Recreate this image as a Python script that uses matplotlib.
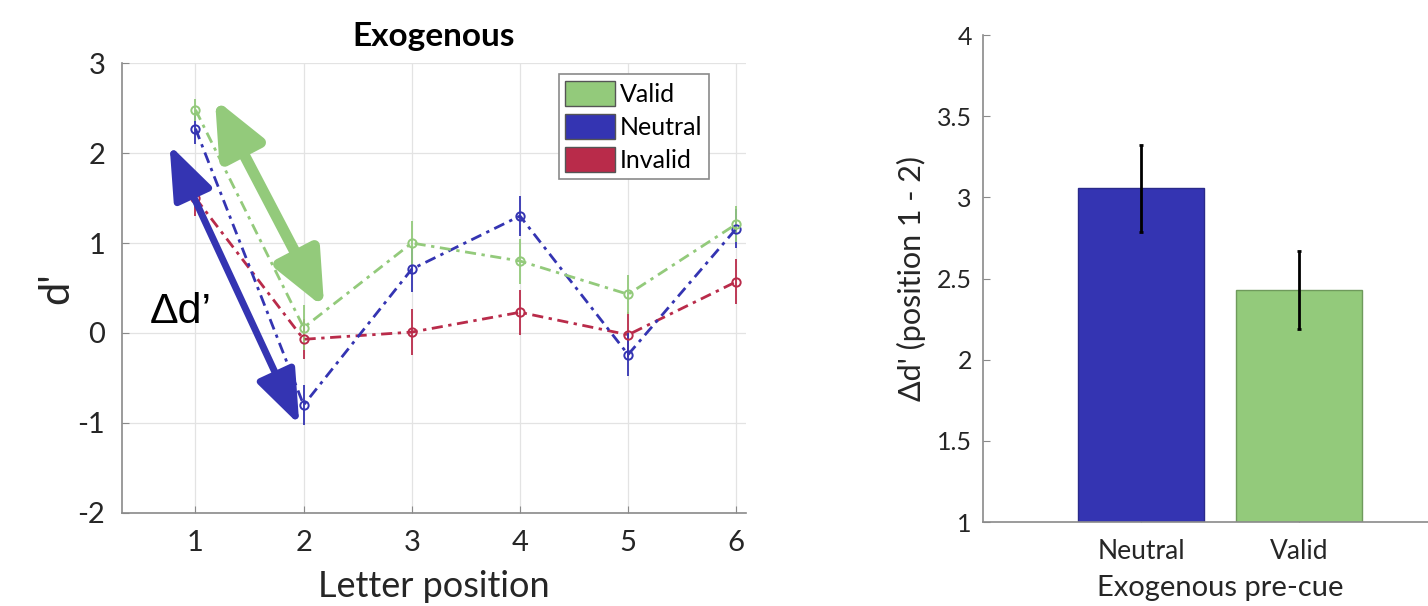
import matplotlib.pyplot as plt
from matplotlib.patches import Patch, FancyArrowPatch
import numpy as np

plt.rcParams['font.family'] = ['Lato', 'DejaVu Sans']

# ------ data ------
positions = [1, 2, 3, 4, 5, 6]
valid = [2.48, 0.06, 1.00, 0.80, 0.43, 1.21]
valid_err = [0.12, 0.25, 0.25, 0.25, 0.22, 0.20]
neutral = [2.27, -0.80, 0.71, 1.30, -0.24, 1.16]
neutral_err = [0.17, 0.22, 0.25, 0.22, 0.24, 0.22]
invalid = [1.50, -0.07, 0.01, 0.23, -0.02, 0.57]
invalid_err = [0.20, 0.22, 0.26, 0.25, 0.25, 0.25]

bar_labels = ['Neutral', 'Valid']
bar_values = [3.055, 2.432]
bar_err = [0.27, 0.24]

c_valid = '#93ca7b'
c_neutral = '#3434b2'
c_invalid = '#b92b4a'
txt = '#262626'
spine = '#8a8a8a'

fig = plt.figure(figsize=(14.28, 6.06), dpi=100)

# ---------- left: d' by letter position ----------
ax = fig.add_axes([0.0854, 0.1535, 0.437, 0.7425])
series = [('Valid', valid, valid_err, c_valid),
          ('Neutral', neutral, neutral_err, c_neutral),
          ('Invalid', invalid, invalid_err, c_invalid)]
for name, vals, err, col in reversed(series):
    ax.errorbar(positions, vals, yerr=err, color=col, lw=2,
                linestyle=(0, (4, 2, 1.2, 2)), marker='o', ms=6,
                mfc='none', mew=1.4, elinewidth=1.3, capsize=0, zorder=3)

ax.set_xlim(0.32, 6.09)
ax.set_ylim(-2, 3)
ax.set_xticks(positions)
ax.set_yticks(range(-2, 4))
ax.set_yticklabels(['-2', '-1', '0', '1', '2', '3'])
ax.grid(True, color='#e3e3e3', lw=0.9)
ax.set_axisbelow(True)
for s in ['top', 'right']:
    ax.spines[s].set_visible(False)
for s in ['left', 'bottom']:
    ax.spines[s].set_color(spine)
    ax.spines[s].set_linewidth(1.2)
ax.tick_params(direction='in', length=5, color=spine, labelsize=21,
               labelcolor=txt, pad=12)
ax.set_xlabel('Letter position', fontsize=26, color=txt, labelpad=10)
ax.set_ylabel("d'", fontsize=30, color=txt, labelpad=2)
ax.set_title('Exogenous', fontsize=24, fontweight='bold', pad=12)

# double arrows showing the drop from position 1 to 2
green_arrow = FancyArrowPatch((1.18, 2.60), (2.19, 0.28),
                              arrowstyle='<|-|>,head_length=3.3,head_width=1.45',
                              mutation_scale=10, lw=8, color=c_valid,
                              shrinkA=0, shrinkB=0, zorder=4)
blue_arrow = FancyArrowPatch((0.76, 2.09), (1.96, -1.02),
                             arrowstyle='<|-|>,head_length=3.3,head_width=1.25',
                             mutation_scale=10, lw=5, color=c_neutral,
                             shrinkA=0, shrinkB=0, zorder=4)
ax.add_patch(green_arrow)
ax.add_patch(blue_arrow)
ax.text(0.58, 0.23, "\u0394d\u2019", fontsize=31, family='Liberation Sans',
        va='center', ha='left', color='black')

handles = [Patch(facecolor=c, edgecolor='#555555', lw=1) for c in [c_valid, c_neutral, c_invalid]]
leg = ax.legend(handles, ['Valid', 'Neutral', 'Invalid'], loc='upper right',
                bbox_to_anchor=(0.94, 0.975), borderaxespad=0, fontsize=18,
                fancybox=False, edgecolor='#8a8a8a', framealpha=1,
                handlelength=2.0, handleheight=1.2, handletextpad=0.2,
                labelspacing=0.3, borderpad=0.25)
leg.get_frame().set_linewidth(1.2)

# ---------- right: bar chart of delta d' ----------
ax2 = fig.add_axes([0.6884, 0.1386, 0.332, 0.8036])
xb = np.arange(1, len(bar_labels) + 1)
ax2.bar(xb, bar_values, width=0.8, bottom=0, color=[c_neutral, c_valid],
        edgecolor=['#2a2a8a', '#6f9a5c'], lw=1, zorder=2)
ax2.errorbar(xb, bar_values, yerr=bar_err, fmt='none', ecolor='black',
             elinewidth=2, capsize=1.5, capthick=2, zorder=3)
ax2.set_xlim(0, 3)
ax2.set_ylim(1, 4)
ax2.set_xticks(xb)
ax2.set_xticklabels(bar_labels)
ax2.set_yticks([1, 1.5, 2, 2.5, 3, 3.5, 4])
ax2.set_yticklabels(['1', '1.5', '2', '2.5', '3', '3.5', '4'])
for s in ['top', 'right']:
    ax2.spines[s].set_visible(False)
for s in ['left', 'bottom']:
    ax2.spines[s].set_color(spine)
    ax2.spines[s].set_linewidth(1.2)
ax2.tick_params(direction='in', length=5, color=spine, labelcolor=txt)
ax2.tick_params(axis='y', labelsize=18, pad=8)
ax2.tick_params(axis='x', labelsize=19, pad=12)
ax2.set_xlabel('Exogenous pre-cue', fontsize=21, color=txt, labelpad=8)
ax2.set_ylabel("\u0394d' (position 1 - 2)", fontsize=22, color=txt, labelpad=8)

fig.savefig('out.png', dpi=100)
